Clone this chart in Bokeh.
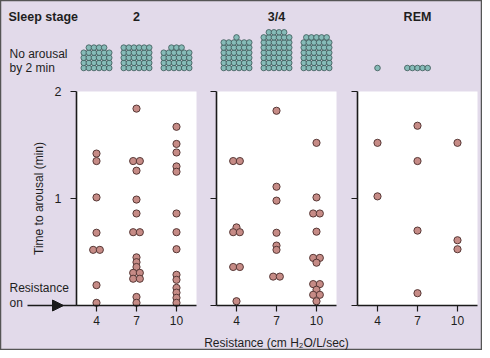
from bokeh.plotting import figure
from bokeh.models import (Range1d, FixedTicker, Label, Arrow, NormalHead,
                          LinearAxis)
from bokeh.embed import file_html
from bokeh.resources import INLINE

# ---------------- data ----------------
resistances = [4, 7, 10]
stage_titles = ["2", "3/4", "REM"]
x_tick_labels = ["4", "7", "10"]
y_ticks = [0, 1, 2]
y_tick_labels = ["", "1", "2"]

# time to arousal (min) for each stage / resistance level
stage2_r4 = [1.42, 1.35, 1.01, 0.68, 0.52, 0.52, 0.19, 0.025]
stage2_r7 = [1.84, 1.35, 1.35, 1.26, 0.99, 0.86, 0.685, 0.685, 0.45, 0.405,
             0.36, 0.305, 0.305, 0.25, 0.25, 0.08, 0.025]
stage2_r10 = [1.67, 1.51, 1.43, 1.30, 1.25, 0.86, 0.685, 0.526, 0.287, 0.24,
              0.165, 0.12, 0.072, 0.025]
stage34_r4 = [1.35, 1.35, 0.73, 0.685, 0.685, 0.36, 0.36, 0.04]
stage34_r7 = [1.82, 1.11, 0.98, 0.68, 0.56, 0.52, 0.27, 0.27]
stage34_r10 = [1.52, 1.01, 0.86, 0.86, 0.69, 0.445, 0.445, 0.40, 0.20, 0.20,
               0.147, 0.10, 0.10, 0.04]
rem_r4 = [1.52, 1.02]
rem_r7 = [1.68, 1.35, 0.70, 0.115]
rem_r10 = [1.52, 0.61, 0.526]

# number of trials with no arousal by 2 min
no_arousal_stage2 = [28, 30, 27]
no_arousal_stage34 = [37, 46, 41]
no_arousal_rem = [1, 5, 0]

# ---------------- style / layout ----------------
W, H = 482, 350
BG = "#e2daea"
DOT_FILL = "#c68b86"
DOT_LINE = "#573836"
STACK_FILL = "#86bbb8"
STACK_LINE = "#3a5756"
AX = "#1a1a1a"
TXT = "#1e1e1e"
FONT = "Liberation Sans"

PXU_Y = 107.0            # pixels per minute
PXU_X = 120.0 / 9.0      # pixels per resistance unit
AXIS_Y_PX = 305.0        # pixel row of time = 0
PANEL_LEFT_PX = [76, 216, 357]
RANGE_NAMES = ["default", "p2", "p3"]


def x_range_for(left_px):
    start = 2.5 - left_px / PXU_X
    return Range1d(start, start + W / PXU_X)


y_range = Range1d(-(H - AXIS_Y_PX) / PXU_Y, AXIS_Y_PX / PXU_Y)


def py(pix):
    return (AXIS_Y_PX - pix) / PXU_Y


def px1(pix):
    return 2.5 + (pix - PANEL_LEFT_PX[0]) / PXU_X


def dodge(vals, step=0.5):
    counts = {}
    for v in vals:
        counts[v] = counts.get(v, 0) + 1
    seen = {}
    out = []
    for v in vals:
        n = counts[v]
        i = seen.get(v, 0)
        seen[v] = i + 1
        out.append((i - (n - 1) / 2.0) * step)
    return out


def stack_positions(cx, n, per_row=6):
    xs, ys = [], []
    sx = 5.1 / PXU_X
    sy = 5.1 / PXU_Y
    base = py(67.5)
    k, r = 0, 0
    while k < n:
        m = min(per_row, n - k)
        for j in range(m):
            xs.append(cx + (j - (m - 1) / 2.0) * sx)
            ys.append(base + r * sy)
        k += m
        r += 1
    return xs, ys


p = figure(width=W, height=H, x_range=x_range_for(PANEL_LEFT_PX[0]),
           y_range=y_range, x_axis_type=None, y_axis_type=None,
           output_backend="svg", toolbar_location=None, title=None,
           min_border=0, min_border_left=0, min_border_right=0,
           min_border_top=0, min_border_bottom=0)
p.extra_x_ranges = {"p2": x_range_for(PANEL_LEFT_PX[1]),
                    "p3": x_range_for(PANEL_LEFT_PX[2])}
p.background_fill_color = BG
p.border_fill_color = BG
p.outline_line_color = "#555555"
p.outline_line_width = 1.5
p.xgrid.visible = False
p.ygrid.visible = False

all_series = [[stage2_r4, stage2_r7, stage2_r10],
              [stage34_r4, stage34_r7, stage34_r10],
              [rem_r4, rem_r7, rem_r10]]
all_counts = [no_arousal_stage2, no_arousal_stage34, no_arousal_rem]

for k, rn in enumerate(RANGE_NAMES):
    # white data area
    p.quad(left=[2.5], right=[11.5], bottom=[0], top=[2.0],
           fill_color="white", line_color=None, x_range_name=rn)

    # arousal times
    for xc, vals in zip(resistances, all_series[k]):
        offs = dodge(vals)
        p.scatter([xc + o for o in offs], vals, size=7.2, fill_color=DOT_FILL,
                  line_color=DOT_LINE, line_width=1, x_range_name=rn)

    # no-arousal stacks
    for xc, n in zip(resistances, all_counts[k]):
        if n > 0:
            sx, sy = stack_positions(xc, n)
            p.scatter(sx, sy, size=5.6, fill_color=STACK_FILL,
                      line_color=STACK_LINE, line_width=0.8, x_range_name=rn)

    # stage title
    p.add_layout(Label(x=7, y=py(16), text=stage_titles[k], x_range_name=rn,
                       text_font=FONT, text_font_size="12.5px",
                       text_font_style="bold", text_align="center",
                       text_baseline="middle", text_color=TXT))

    # x axis
    xa = LinearAxis(x_range_name=rn, fixed_location=0, bounds=(2.5, 11.5),
                    ticker=FixedTicker(ticks=resistances))
    xa.major_label_overrides = {r: l for r, l in zip(resistances, x_tick_labels)}
    xa.minor_tick_line_color = None
    xa.major_tick_out = 6
    xa.major_tick_in = 0
    xa.axis_line_width = 1.6
    xa.axis_line_color = AX
    xa.major_tick_line_color = AX
    xa.major_tick_line_width = 1.2
    xa.major_label_text_font = FONT
    xa.major_label_text_font_size = "12px"
    xa.major_label_text_color = TXT
    xa.major_label_standoff = 4
    if k == 1:
        xa.axis_label = "Resistance (cm H\u2082O/L/sec)"
        xa.axis_label_text_font = FONT
        xa.axis_label_text_font_size = "12px"
        xa.axis_label_text_font_style = "normal"
        xa.axis_label_text_color = TXT
        xa.axis_label_standoff = 8
    p.add_layout(xa, "below")

    # y axis
    ya = LinearAxis(x_range_name=rn, fixed_location=2.5, bounds=(0, 2),
                    ticker=FixedTicker(ticks=y_ticks))
    ya.minor_tick_line_color = None
    ya.major_tick_out = 6
    ya.major_tick_in = 0
    ya.axis_line_width = 1.6
    ya.axis_line_color = AX
    ya.major_tick_line_color = AX
    ya.major_tick_line_width = 1.2
    ya.major_label_text_font = FONT
    ya.major_label_text_color = TXT
    if k == 0:
        ya.major_label_overrides = {t: l for t, l in zip(y_ticks, y_tick_labels)}
        ya.major_label_text_font_size = "12.5px"
        ya.major_label_standoff = 9
        ya.axis_label = "Time to arousal (min)"
        ya.axis_label_text_font = FONT
        ya.axis_label_text_font_size = "12px"
        ya.axis_label_text_font_style = "normal"
        ya.axis_label_text_color = TXT
        ya.axis_label_standoff = 6
    else:
        ya.major_label_overrides = {t: "" for t in y_ticks}
    p.add_layout(ya, "left")

# left-hand texts
common = dict(text_font=FONT, text_color=TXT, text_baseline="middle")
p.add_layout(Label(x=px1(8), y=py(16), text="Sleep stage",
                   text_font_size="12.5px", text_font_style="bold", **common))
p.add_layout(Label(x=px1(9), y=py(53), text="No arousal",
                   text_font_size="12px", **common))
p.add_layout(Label(x=px1(9), y=py(67), text="by 2 min",
                   text_font_size="12px", **common))
p.add_layout(Label(x=px1(9), y=py(287), text="Resistance",
                   text_font_size="12px", **common))
p.add_layout(Label(x=px1(9), y=py(302), text="on",
                   text_font_size="12px", **common))

# "Resistance on" arrow
p.add_layout(Arrow(x_start=px1(27), y_start=0, x_end=px1(63), y_end=0,
                   line_color=AX, line_width=1.4,
                   end=NormalHead(size=11, fill_color=AX, line_color=AX)))
p.add_layout(Arrow(x_start=px1(60), y_start=0, x_end=px1(76), y_end=0,
                   line_color=AX, line_width=1.4, end=None))

open("out.html", "w").write(file_html(p, INLINE))
